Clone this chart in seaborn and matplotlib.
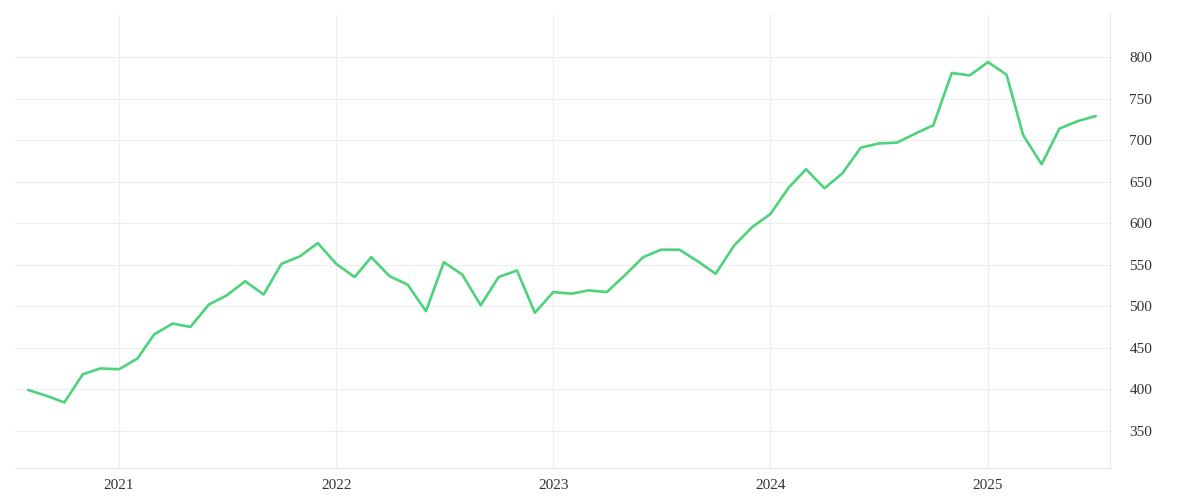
import matplotlib
matplotlib.use("Agg")
import matplotlib.pyplot as plt
import seaborn as sns
import pandas as pd
import matplotlib.dates as mdates

dates = pd.date_range("2020-08-01", "2025-07-01", freq="MS")
values = [399, 392, 384, 418, 425, 424, 437, 466, 479, 475, 502, 513, 530, 514, 551, 560, 576,
          551, 535, 559, 536, 526, 494, 553, 538, 501, 535, 543, 492,
          517, 515, 519, 517, 537, 559, 568, 568, 554, 539, 573, 595,
          611, 643, 665, 642, 660, 691, 696, 697, 708, 718, 781, 778,
          794, 779, 706, 671, 714, 723, 729]
df = pd.DataFrame({"date": dates, "value": values})

sns.set_style("white")
plt.rcParams['font.family'] = ['Liberation Serif', 'DejaVu Serif']
fig = plt.figure(figsize=(12, 5), dpi=100)
ax = fig.add_axes([15/1200, 32/500, 1095/1200, 454/500])
sns.lineplot(data=df, x="date", y="value", ax=ax, color="#4cd37b", linewidth=1.9)
ax.set_xlim(pd.Timestamp("2020-07-10"), pd.Timestamp("2025-07-25"))
ax.set_ylim(305, 852)
ax.yaxis.tick_right()
ax.set_yticks(range(350, 801, 50))
ax.xaxis.set_major_locator(mdates.YearLocator())
ax.xaxis.set_major_formatter(mdates.DateFormatter("%Y"))
ax.grid(True, color="#eeeeee", linewidth=0.8)
ax.set_xlabel(""); ax.set_ylabel("")
for s in ["top", "left"]:
    ax.spines[s].set_visible(False)
for s in ["bottom", "right"]:
    ax.spines[s].set_color("#e6e6e6")
ax.tick_params(axis="y", length=0, labelsize=11, colors="#333333", pad=14)
ax.tick_params(axis="x", length=0, labelsize=11, colors="#333333", pad=8)
fig.savefig("out.png")
